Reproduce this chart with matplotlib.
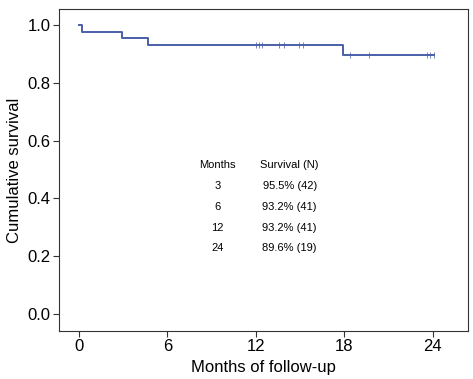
import numpy as np
import matplotlib
matplotlib.use('Agg')
import matplotlib.pyplot as plt

plt.rcParams['font.family'] = ['Liberation Sans', 'DejaVu Sans']

# step curve of the Kaplan-Meier estimate
step_times = [0, 0.2, 2.9, 4.65, 17.9, 24.1]
step_surv = [1.0, 0.977, 0.955, 0.932, 0.896, 0.896]

# censored observations
cens_times = [12.0, 12.2, 12.4, 13.6, 13.9, 14.9, 15.2, 18.4, 19.7, 23.6, 23.8, 24.1]

# summary table
tab_months = ['3', '6', '12', '24']
tab_surv = ['95.5% (42)', '93.2% (41)', '93.2% (41)', '89.6% (19)']

col = '#4a5fa8'

fig = plt.figure(figsize=(4.73, 3.79), dpi=100)
ax = fig.add_axes([59/473, 1 - 331/379, (468-59)/473, (331-9)/379])

ax.step(step_times, step_surv, where='post', color=col, lw=1.4)

# censor marks sit on the curve
cens_y = [step_surv[np.searchsorted(step_times, t, side='right') - 1] for t in cens_times]
ax.plot(cens_times, cens_y, ls='none', marker='|', ms=4.5, mew=0.7, color=col, alpha=0.75)

ax.set_xlim(-1.36, 26.4)
ax.set_ylim(-0.059, 1.055)
ax.set_xticks([0, 6, 12, 18, 24])
ax.set_yticks([0, 0.2, 0.4, 0.6, 0.8, 1.0])
ax.set_yticklabels(['0.0', '0.2', '0.4', '0.6', '0.8', '1.0'])
ax.tick_params(labelsize=12, length=4, width=0.8, color='#333333', pad=2)
for s in ax.spines.values():
    s.set_color('#333333')
    s.set_linewidth(0.8)

ax.set_xlabel('Months of follow-up', fontsize=12, labelpad=4)
ax.set_ylabel('Cumulative survival', fontsize=12, labelpad=4)

# table text
ax.text(9.4, 0.516, 'Months', ha='center', va='center', fontsize=8)
ax.text(14.3, 0.516, 'Survival (N)', ha='center', va='center', fontsize=8)
row_y = [0.443, 0.370, 0.298, 0.228]
for m, s, y in zip(tab_months, tab_surv, row_y):
    ax.text(9.4, y, m, ha='center', va='center', fontsize=8)
    ax.text(14.3, y, s, ha='center', va='center', fontsize=8)

fig.savefig('out.png', dpi=100)
